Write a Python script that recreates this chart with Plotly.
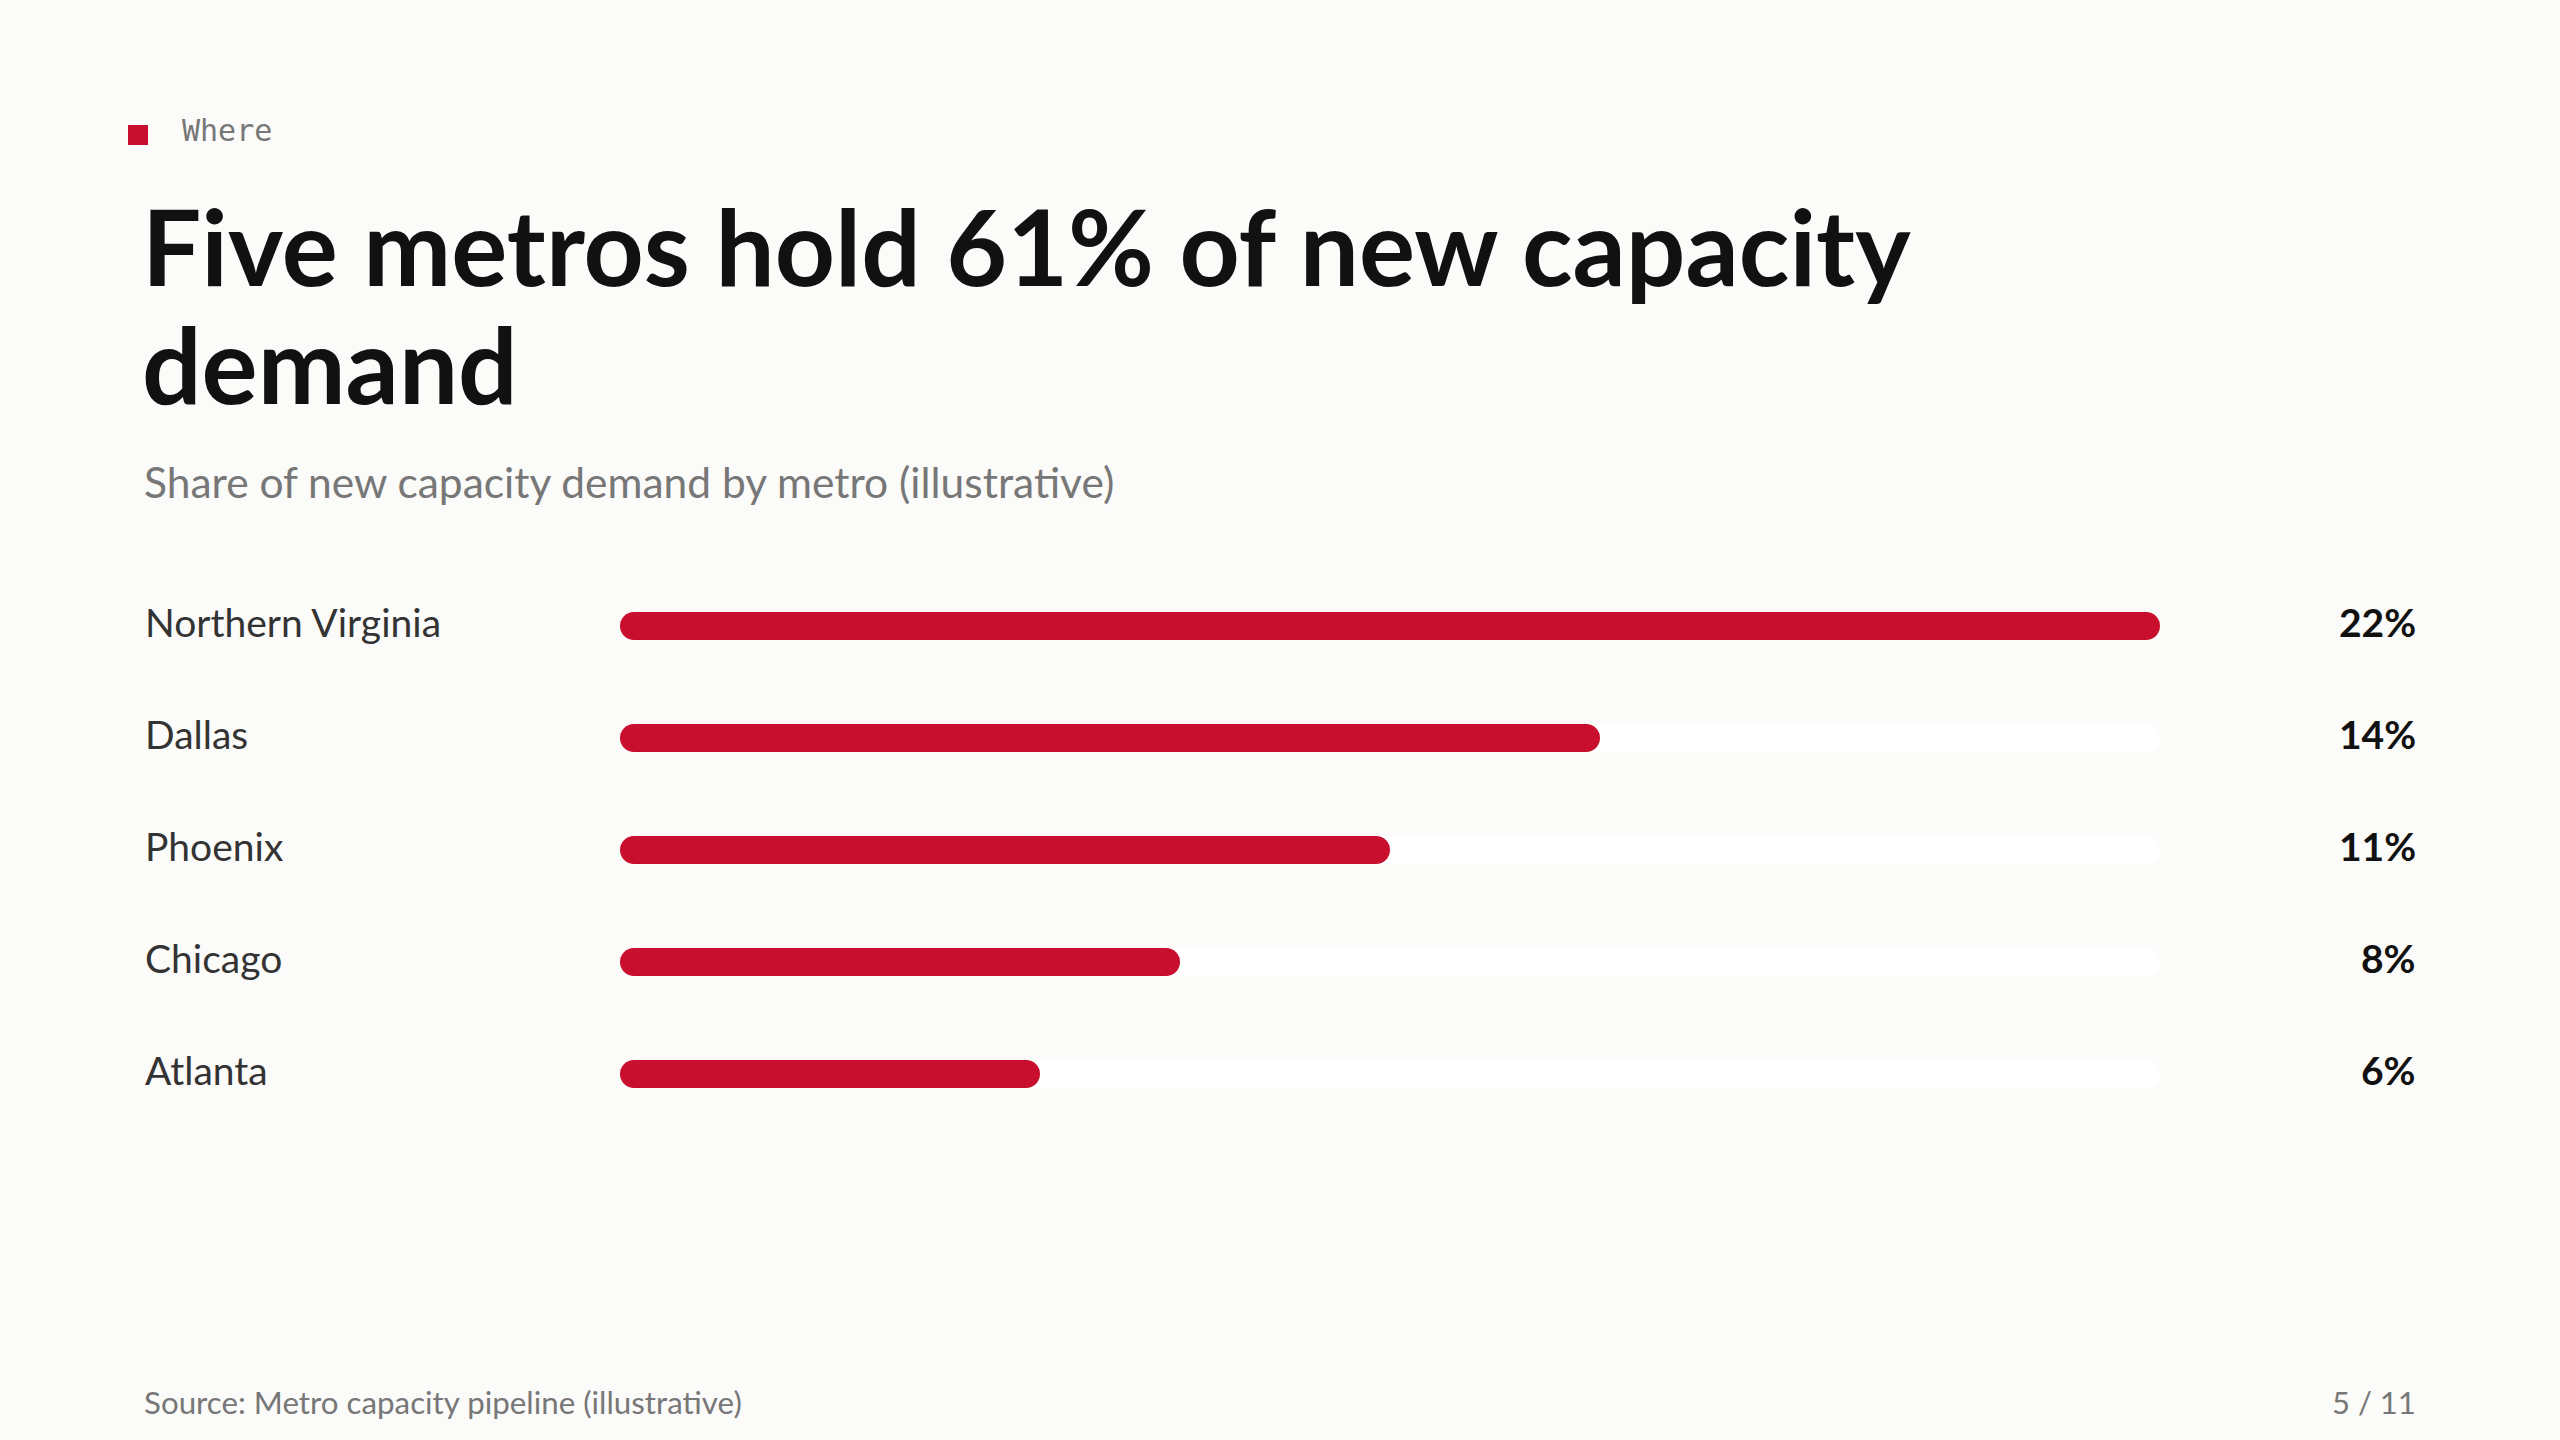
import plotly.graph_objects as go

# ---- data ----
metros = ["Northern Virginia", "Dallas", "Phoenix", "Chicago", "Atlanta"]
shares = [22, 14, 11, 8, 6]
share_labels = [f"{v}%" for v in shares]
eyebrow = "Where"
title_lines = ["Five metros hold 61% of new capacity", "demand"]
subtitle = "Share of new capacity demand by metro (illustrative)"
source = "Source: Metro capacity pipeline (illustrative)"
page = "5 / 11"

W, H = 2560, 1440
BG = "#FBFBF9"
RED = "#C8102E"
TRACK = "#FFFFFF"
SANS = "Lato, 'Noto Sans', sans-serif"
MONO = "'DejaVu Sans Mono', 'Liberation Mono', monospace"


def px(x):
    return x / W


def py(y):
    return 1 - y / H


rows = list(range(len(metros)))
track_max = max(shares)
tracks = [track_max] * len(metros)

fig = go.Figure()


def add_rounded(values, color):
    # two overlapping halves so both ends get rounded corners
    right_base = [v * 0.45 for v in values]
    right_len = [v * 0.55 for v in values]
    left_base = [v * 0.55 for v in values]
    left_len = [-v * 0.55 for v in values]
    for base, length in ((right_base, right_len), (left_base, left_len)):
        fig.add_trace(go.Bar(
            y=rows, x=length, base=base, orientation="h", width=0.25,
            marker=dict(color=color, line=dict(width=0), cornerradius="50%"),
            hoverinfo="skip", showlegend=False,
        ))


add_rounded(tracks, TRACK)
add_rounded(shares, RED)

annotations = []
for i, (m, lab) in enumerate(zip(metros, share_labels)):
    annotations.append(dict(
        x=px(143), xref="paper", y=i, yref="y", text=m, showarrow=False,
        xanchor="left", yanchor="middle", yshift=4,
        font=dict(family=SANS, size=39, color="#333333"),
    ))
    annotations.append(dict(
        x=px(2418), xref="paper", y=i, yref="y", text=f"<b>{lab}</b>", showarrow=False,
        xanchor="right", yanchor="middle", yshift=4,
        font=dict(family=SANS, size=39, color="#111111"),
    ))

annotations += [
    dict(x=px(180), y=py(130), xref="paper", yref="paper", text=eyebrow, showarrow=False,
         xanchor="left", yanchor="middle", font=dict(family=MONO, size=30, color="#777777")),
    dict(x=px(140), y=py(245), xref="paper", yref="paper", text=f"<b>{title_lines[0]}</b>",
         showarrow=False, xanchor="left", yanchor="middle",
         font=dict(family=SANS, size=105, color="#111111")),
    dict(x=px(140), y=py(363), xref="paper", yref="paper", text=f"<b>{title_lines[1]}</b>",
         showarrow=False, xanchor="left", yanchor="middle",
         font=dict(family=SANS, size=105, color="#111111")),
    dict(x=px(142), y=py(481), xref="paper", yref="paper", text=subtitle, showarrow=False,
         xanchor="left", yanchor="middle", font=dict(family=SANS, size=42.5, color="#777777")),
    dict(x=px(142), y=py(1402), xref="paper", yref="paper", text=source, showarrow=False,
         xanchor="left", yanchor="middle", font=dict(family=SANS, size=31.3, color="#777777")),
    dict(x=px(2418), y=py(1402), xref="paper", yref="paper", text=page, showarrow=False,
         xanchor="right", yanchor="middle", font=dict(family=SANS, size=31, color="#777777")),
]

fig.update_layout(
    width=W, height=H,
    margin=dict(l=0, r=0, t=0, b=0),
    paper_bgcolor=BG, plot_bgcolor=BG,
    barmode="overlay",
    showlegend=False,
    xaxis=dict(domain=[px(620), px(2160)], range=[0, track_max], visible=False, fixedrange=True),
    yaxis=dict(domain=[py(1130), py(570)], range=[len(metros) - 0.5, -0.5], visible=False,
               fixedrange=True),
    annotations=annotations,
    shapes=[dict(type="rect", xref="paper", yref="paper", x0=px(128), x1=px(148),
                 y0=py(145), y1=py(125), fillcolor=RED, line=dict(width=0))],
)

fig.write_html("out.html", config={"displayModeBar": False})
